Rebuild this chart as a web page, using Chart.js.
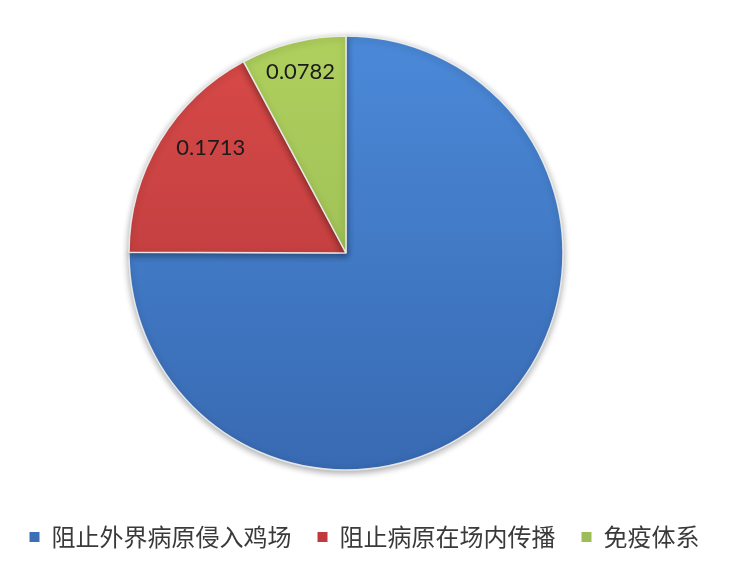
<!DOCTYPE html>
<html><head><meta charset="utf-8">
<script src="https://cdn.jsdelivr.net/npm/chart.js@4.4.1/dist/chart.umd.min.js"></script>
<style>html,body{margin:0;padding:0;background:#fff;overflow:hidden}</style>
</head><body>
<canvas id="c" width="729" height="565"></canvas>
<script>
const categories = ['阻止外界病原侵入鸡场', '阻止病原在场内传播', '免疫体系'];
const shares = [0.7505, 0.1713, 0.0782];
const shownLabels = ['', '0.1713', '0.0782'];
const topColors = ['#4B89D8', '#D84A48', '#AFD05D'];
const bottomColors = ['#386AB2', '#B3363A', '#92B452'];
const legendColors = ['#3D6FB6', '#C03A3C', '#9DBD58'];

const PIE_R = 217;

const shiftPlugin = {
  id: 'shiftArea',
  afterLayout(chart) {
    const a = chart.chartArea;
    a.left -= 18.5; a.right -= 18.5;
  }
};
const shadowPlugin = {
  id: 'pieShadow',
  beforeDatasetsDraw(chart) {
    const c = chart.ctx;
    c.save();
    c.shadowColor = 'rgba(0,0,0,0.35)';
    c.shadowBlur = 7;
    c.shadowOffsetX = 0;
    c.shadowOffsetY = 2;
  },
  afterDatasetsDraw(chart) {
    chart.ctx.restore();
  }
};
const labelPlugin = {
  id: 'sliceLabels',
  afterDatasetsDraw(chart) {
    const c = chart.ctx;
    const meta = chart.getDatasetMeta(0);
    c.save();
    c.font = '22px Lato, "Open Sans", sans-serif';
    c.fillStyle = '#1b1b1b';
    c.textAlign = 'center';
    c.textBaseline = 'middle';
    meta.data.forEach((arc, i) => {
      const txt = shownLabels[i];
      if (!txt) return;
      const p = arc.getProps(['x', 'y', 'startAngle', 'endAngle', 'outerRadius'], true);
      const mid = (p.startAngle + p.endAngle) / 2 + (i === 1 ? 0.12 : 0);
      const f = i === 1 ? 0.79 : 0.86;
      c.fillText(txt, p.x + Math.cos(mid) * p.outerRadius * f, p.y + Math.sin(mid) * p.outerRadius * f);
    });
    c.restore();
  }
};

new Chart(document.getElementById('c'), {
  type: 'pie',
  data: {
    labels: categories,
    datasets: [{
      data: shares,
      radius: PIE_R,
      clip: false,
      borderWidth: 1.5,
      borderColor: 'rgba(240,240,240,0.9)',
      backgroundColor: (ctx) => {
        const i = ctx.dataIndex;
        if (i === undefined) return topColors[0];
        const a = ctx.chart.chartArea;
        if (!a) return topColors[i];
        const cy = (a.top + a.bottom) / 2;
        const g = ctx.chart.ctx.createLinearGradient(0, cy - PIE_R, 0, cy + PIE_R);
        g.addColorStop(0, topColors[i]);
        g.addColorStop(1, bottomColors[i]);
        return g;
      }
    }]
  },
  options: {
    responsive: false,
    animation: false,
    layout: { padding: { top: 7, bottom: 6, left: 0, right: 0 } },
    plugins: {
      tooltip: { enabled: false },
      legend: {
        position: 'bottom',
        labels: {
          font: { family: '"Noto Sans CJK SC", sans-serif', size: 24 },
          color: '#3a3a3a',
          boxWidth: 10,
          boxHeight: 10,
          padding: 26,
          generateLabels: () => categories.map((t, i) => ({
            text: t, fillStyle: legendColors[i], strokeStyle: legendColors[i],
            lineWidth: 0, hidden: false, index: i, fontColor: '#3a3a3a'
          }))
        }
      }
    }
  },
  plugins: [shiftPlugin, shadowPlugin, labelPlugin]
});
</script>
</body></html>
